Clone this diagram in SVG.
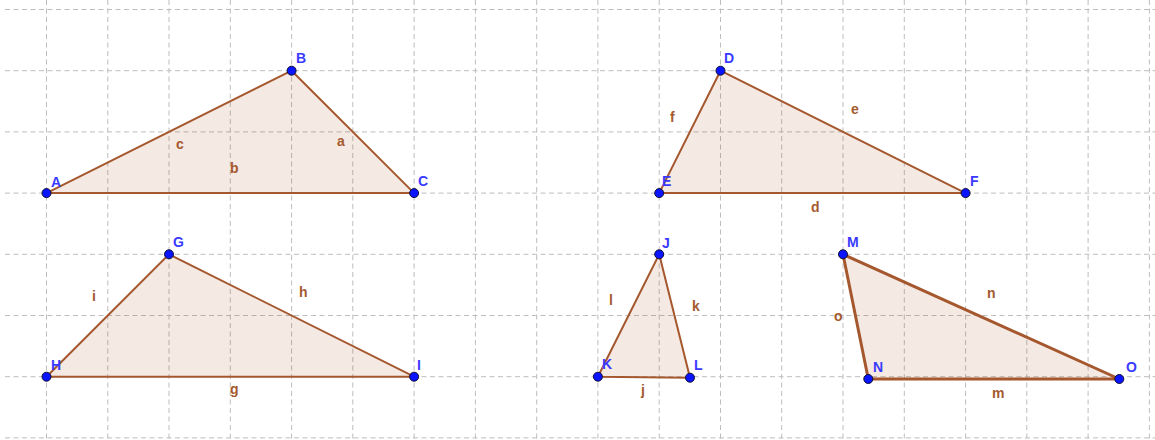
<svg xmlns="http://www.w3.org/2000/svg" width="1155" height="440" viewBox="0 0 1155 440">
<style>
.grid line{stroke:#bdbdbd;stroke-width:1;stroke-dasharray:5 3.5}
.tri{fill:#993300;fill-opacity:0.11;stroke:#a5572e;stroke-width:2;stroke-linejoin:round}
.thick{stroke-width:3}
.pt{fill:#0a14ff;stroke:#101030;stroke-width:1}
.pl{font-family:"Liberation Sans",Arial,sans-serif;font-size:14px;font-weight:bold;fill:#3a3aff}
.el{font-family:"Liberation Sans",Arial,sans-serif;font-size:14px;font-weight:bold;fill:#a55a2e}
</style>
<rect width="1155" height="440" fill="#ffffff"/>
<g class="grid">
<line x1="46.5" y1="0" x2="46.5" y2="440"/><line x1="107.8" y1="0" x2="107.8" y2="440"/><line x1="169" y1="0" x2="169" y2="440"/><line x1="230.3" y1="0" x2="230.3" y2="440"/><line x1="291.6" y1="0" x2="291.6" y2="440"/><line x1="352.8" y1="0" x2="352.8" y2="440"/><line x1="414.1" y1="0" x2="414.1" y2="440"/><line x1="475.4" y1="0" x2="475.4" y2="440"/><line x1="536.7" y1="0" x2="536.7" y2="440"/><line x1="597.9" y1="0" x2="597.9" y2="440"/><line x1="659.2" y1="0" x2="659.2" y2="440"/><line x1="720.5" y1="0" x2="720.5" y2="440"/><line x1="781.7" y1="0" x2="781.7" y2="440"/><line x1="843" y1="0" x2="843" y2="440"/><line x1="904.3" y1="0" x2="904.3" y2="440"/><line x1="965.6" y1="0" x2="965.6" y2="440"/><line x1="1026.8" y1="0" x2="1026.8" y2="440"/><line x1="1088.1" y1="0" x2="1088.1" y2="440"/><line x1="1149.4" y1="0" x2="1149.4" y2="440"/>
<line x1="5" y1="9.5" x2="1155" y2="9.5"/><line x1="5" y1="70.7" x2="1155" y2="70.7"/><line x1="5" y1="131.9" x2="1155" y2="131.9"/><line x1="5" y1="193.1" x2="1155" y2="193.1"/><line x1="5" y1="254.3" x2="1155" y2="254.3"/><line x1="5" y1="315.5" x2="1155" y2="315.5"/><line x1="5" y1="376.7" x2="1155" y2="376.7"/><line x1="5" y1="437.9" x2="1155" y2="437.9"/>
</g>
<g id="triangle-ABC">
<polygon class="tri" points="46.5,193.1 291.6,70.7 414.1,193.1"/>
<text class="el" x="176" y="149">c</text><text class="el" x="230" y="173">b</text><text class="el" x="337" y="146">a</text>
<circle class="pt" cx="46.5" cy="193.1" r="4.5"/><circle class="pt" cx="291.6" cy="70.7" r="4.5"/><circle class="pt" cx="414.1" cy="193.1" r="4.5"/>
<text class="pl" x="51" y="187">A</text><text class="pl" x="296" y="63">B</text><text class="pl" x="418" y="186">C</text>
</g>
<g id="triangle-DEF">
<polygon class="tri" points="720.5,70.7 659.2,193.1 965.6,193.1"/>
<text class="el" x="670" y="122">f</text><text class="el" x="851" y="114">e</text><text class="el" x="811" y="212">d</text>
<circle class="pt" cx="720.5" cy="70.7" r="4.5"/><circle class="pt" cx="659.2" cy="193.1" r="4.5"/><circle class="pt" cx="965.6" cy="193.1" r="4.5"/>
<text class="pl" x="724" y="63">D</text><text class="pl" x="662" y="186">E</text><text class="pl" x="970" y="186">F</text>
</g>
<g id="triangle-GHI">
<polygon class="tri" points="169,254.3 46.5,376.7 414.1,376.7"/>
<text class="el" x="92" y="301">i</text><text class="el" x="299" y="297">h</text><text class="el" x="230" y="394">g</text>
<circle class="pt" cx="169" cy="254.3" r="4.5"/><circle class="pt" cx="46.5" cy="376.7" r="4.5"/><circle class="pt" cx="414.1" cy="376.7" r="4.5"/>
<text class="pl" x="173" y="247">G</text><text class="pl" x="51" y="370">H</text><text class="pl" x="417" y="370">I</text>
</g>
<g id="triangle-JKL">
<polygon class="tri" points="659.2,254.3 597.9,376.7 690,377.7"/>
<text class="el" x="609" y="305">l</text><text class="el" x="692" y="311">k</text><text class="el" x="641" y="395">j</text>
<circle class="pt" cx="659.2" cy="254.3" r="4.5"/><circle class="pt" cx="597.9" cy="376.7" r="4.5"/><circle class="pt" cx="690" cy="377.7" r="4.5"/>
<text class="pl" x="662" y="248">J</text><text class="pl" x="602" y="369">K</text><text class="pl" x="694" y="370">L</text>
</g>
<g id="triangle-MNO">
<polygon class="tri thick" points="843,254.3 868.3,379 1119.3,379"/>
<text class="el" x="987" y="298">n</text><text class="el" x="834" y="321">o</text><text class="el" x="992" y="398">m</text>
<circle class="pt" cx="843" cy="254.3" r="4.5"/><circle class="pt" cx="868.3" cy="379" r="4.5"/><circle class="pt" cx="1119.3" cy="379" r="4.5"/>
<text class="pl" x="847" y="247">M</text><text class="pl" x="873" y="372">N</text><text class="pl" x="1126" y="372">O</text>
</g>
</svg>
